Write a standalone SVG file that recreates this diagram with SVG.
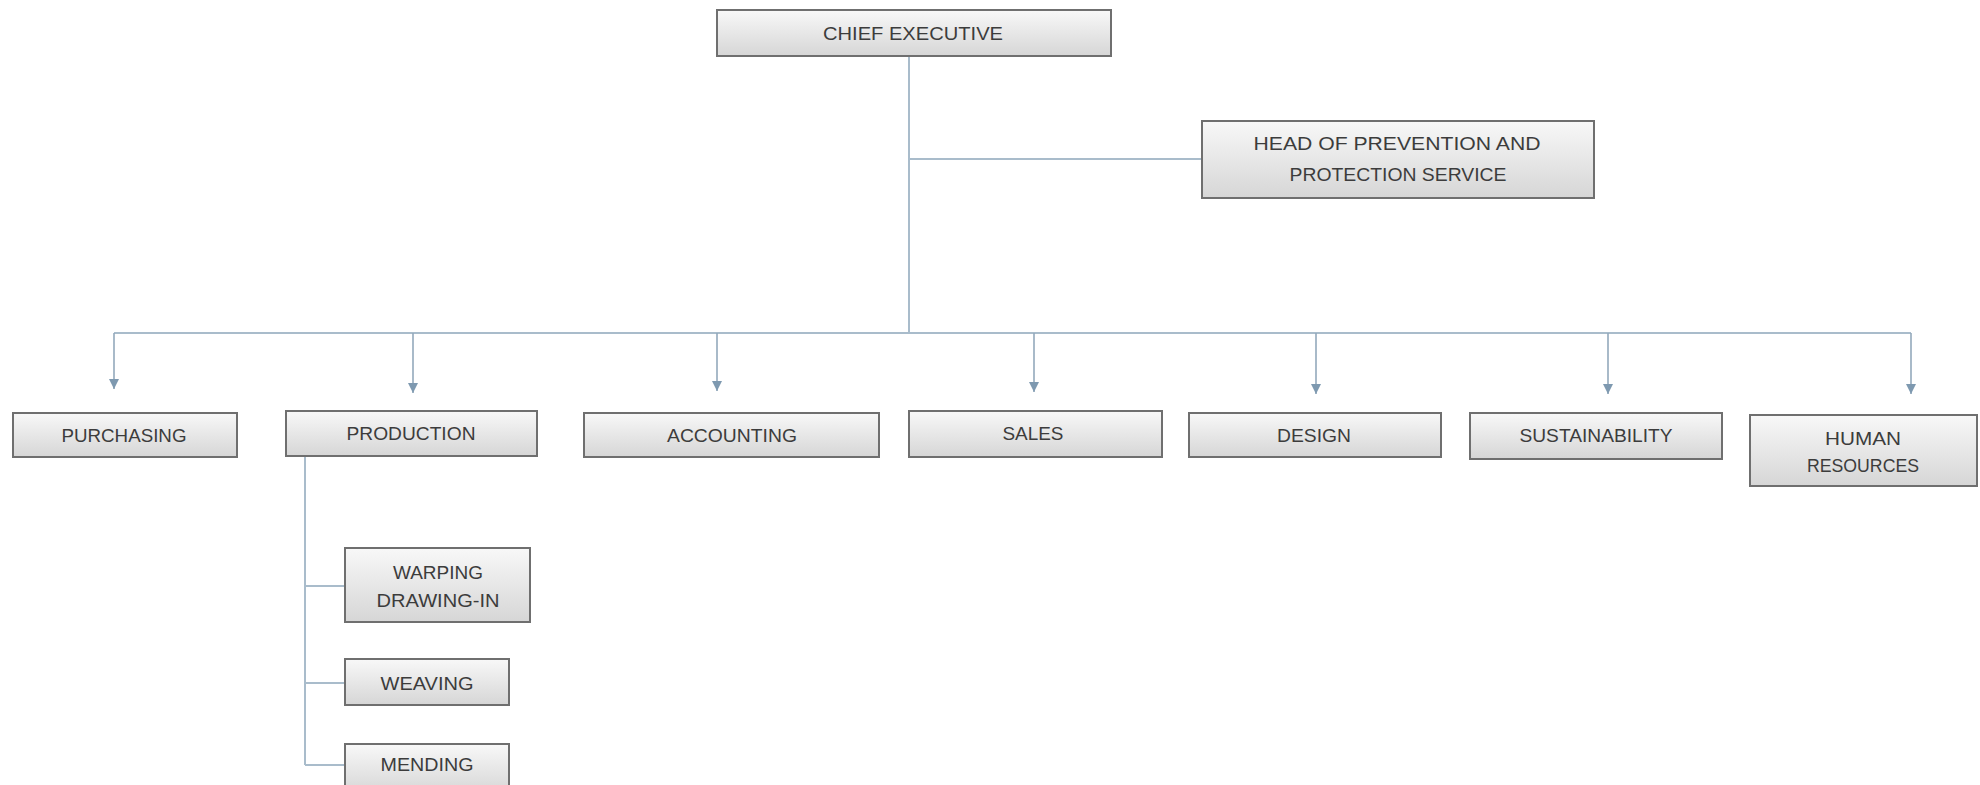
<svg xmlns="http://www.w3.org/2000/svg" width="1980" height="785" viewBox="0 0 1980 785">
<defs>
<linearGradient id="g" x1="0" y1="0" x2="0" y2="1">
<stop offset="0" stop-color="#f8f8f8"/>
<stop offset="1" stop-color="#d6d6d6"/>
</linearGradient>
<marker id="ah" markerUnits="userSpaceOnUse" markerWidth="10" markerHeight="10" refX="10" refY="5" orient="auto">
<path d="M0,0 L10,5 L0,10 z" fill="#7e99b0"/>
</marker>
<style>
.box{fill:url(#g);stroke:#6f6f6f;stroke-width:2}
.t{font-family:"Liberation Sans",Arial,sans-serif;font-size:19px;fill:#3c3c3c;text-anchor:middle}
.c{fill:none;stroke:#a9bccb;stroke-width:2}
.a{fill:none;stroke:#93a9bc;stroke-width:1.6;marker-end:url(#ah)}
</style>
</defs>
<rect width="1980" height="785" fill="#ffffff"/>
<g id="connectors">
<path class="c" d="M909 57 V333"/>
<path class="c" d="M909 159 H1202"/>
<path class="c" d="M114 333 H1911"/>
<path class="a" d="M114 333 V389"/>
<path class="a" d="M413 333 V393"/>
<path class="a" d="M717 333 V391"/>
<path class="a" d="M1034 333 V392"/>
<path class="a" d="M1316 333 V394"/>
<path class="a" d="M1608 333 V394"/>
<path class="a" d="M1911 333 V394"/>
<path class="c" d="M305 457 V765"/>
<path class="c" d="M305 586 H345"/>
<path class="c" d="M305 683 H345"/>
<path class="c" d="M305 765 H345"/>
</g>
<g id="chief">
<rect class="box" x="717" y="10" width="394" height="46"/>
<text class="t" x="913" y="40" textLength="180" lengthAdjust="spacingAndGlyphs">CHIEF EXECUTIVE</text>
</g>
<g id="head">
<rect class="box" x="1202" y="121" width="392" height="77"/>
<text class="t" x="1397" y="150" textLength="287" lengthAdjust="spacingAndGlyphs">HEAD OF PREVENTION AND</text>
<text class="t" x="1398" y="181" textLength="217" lengthAdjust="spacingAndGlyphs">PROTECTION SERVICE</text>
</g>
<g id="purchasing">
<rect class="box" x="13" y="413" width="224" height="44"/>
<text class="t" x="124" y="442" textLength="125" lengthAdjust="spacingAndGlyphs">PURCHASING</text>
</g>
<g id="production">
<rect class="box" x="286" y="411" width="251" height="45"/>
<text class="t" x="411" y="440" textLength="129" lengthAdjust="spacingAndGlyphs">PRODUCTION</text>
</g>
<g id="accounting">
<rect class="box" x="584" y="413" width="295" height="44"/>
<text class="t" x="732" y="442" textLength="130" lengthAdjust="spacingAndGlyphs">ACCOUNTING</text>
</g>
<g id="sales">
<rect class="box" x="909" y="411" width="253" height="46"/>
<text class="t" x="1033" y="440" textLength="61" lengthAdjust="spacingAndGlyphs">SALES</text>
</g>
<g id="design">
<rect class="box" x="1189" y="413" width="252" height="44"/>
<text class="t" x="1314" y="442" textLength="74" lengthAdjust="spacingAndGlyphs">DESIGN</text>
</g>
<g id="sustainability">
<rect class="box" x="1470" y="413" width="252" height="46"/>
<text class="t" x="1596" y="442" textLength="153" lengthAdjust="spacingAndGlyphs">SUSTAINABILITY</text>
</g>
<g id="human-resources">
<rect class="box" x="1750" y="415" width="227" height="71"/>
<text class="t" x="1863" y="445" textLength="76" lengthAdjust="spacingAndGlyphs">HUMAN</text>
<text class="t" x="1863" y="472" textLength="112" lengthAdjust="spacingAndGlyphs">RESOURCES</text>
</g>
<g id="warping">
<rect class="box" x="345" y="548" width="185" height="74"/>
<text class="t" x="438" y="579" textLength="90" lengthAdjust="spacingAndGlyphs">WARPING</text>
<text class="t" x="438" y="607" textLength="123" lengthAdjust="spacingAndGlyphs">DRAWING-IN</text>
</g>
<g id="weaving">
<rect class="box" x="345" y="659" width="164" height="46"/>
<text class="t" x="427" y="690" textLength="93" lengthAdjust="spacingAndGlyphs">WEAVING</text>
</g>
<g id="mending">
<rect class="box" x="345" y="744" width="164" height="50"/>
<text class="t" x="427" y="771" textLength="93" lengthAdjust="spacingAndGlyphs">MENDING</text>
</g>
</svg>
